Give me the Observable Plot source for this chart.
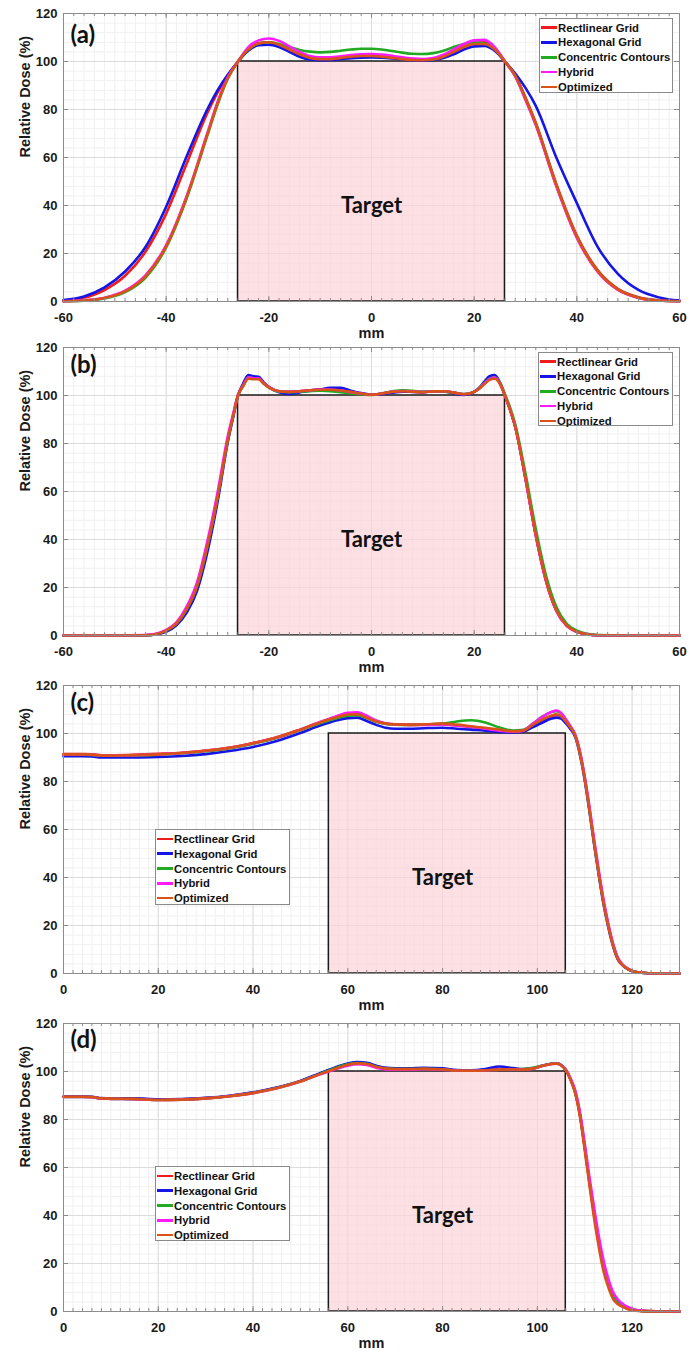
<!DOCTYPE html>
<html><head><meta charset="utf-8">
<script src="https://cdn.jsdelivr.net/npm/d3@7"></script>
<script src="https://cdn.jsdelivr.net/npm/@observablehq/plot@0.6"></script>
<style>
body{margin:0;background:#fff;}
#wrap{position:relative;width:699px;height:1352px;overflow:hidden;}
.panel{position:absolute;left:0;width:699px;height:342px;}
.panel svg{position:absolute;left:0;top:0;}
.legend{position:absolute;background:#fff;border:1px solid #8a8a8a;font:bold 11.3px "Liberation Sans",Arial,sans-serif;color:#111;box-sizing:border-box;padding-top:1.6px;}
.legend .row{display:flex;align-items:center;height:14.8px;white-space:nowrap;}
.legend .sw{width:16px;height:2.6px;margin-left:1px;margin-right:1px;flex:none;}
</style></head><body><div id="wrap"></div>
<script>
const names = ["Rectlinear Grid","Hexagonal Grid","Concentric Contours","Hybrid","Optimized"];
const colors = ["#f01c1c","#1515e6","#22aa22","#ff1aff","#d95319"];
const yTicks = [0,20,40,60,80,100,120];
const xTicksAB = [-60,-40,-20,0,20,40,60];
const xTicksCD = [0,20,40,60,80,100,120];
const domainAB = [-60,60];
const domainCD = [0,130];
const targetAB = [-26,26];
const targetCD = [56,106];
const panelTags = ["(a)","(b)","(c)","(d)"];
const targetLabel = "Target";

// ---------- panel (a) ----------
const xA = [-60,-56,-52,-48,-44,-40,-36,-32,-30,-28,-26,-24,-22,-20,-18,-16,-14,-12,-10,-8,-6,-4,-2,0,2,4,6,8,10,12,14,16,18,20,22,24,26,28,30,32,36,40,44,48,52,56,60];
const aRect = [0.4,1.6,4.8,10.7,20.8,36.6,57.5,78.5,87,94,100,105,107.7,108,106.8,104.8,103,101.8,101.3,101.4,101.8,102.2,102.5,102.6,102.4,102,101.5,101,100.8,101.2,102.3,104.2,106.3,107.7,108,105.5,100,94.3,85,74.5,49,27.5,13.2,5.3,1.8,0.5,0.2];
const aHex = [0.6,2.1,5.9,12.5,22.8,39.5,60.5,80,88,94.5,100,104.5,106.8,107,106,104,102,100.8,100.5,100.6,101,101.4,101.6,101.7,101.6,101.3,100.9,100.5,100.3,100.6,101.5,103,105,106.3,106.5,104.5,100,95,89,81.5,60,41,23,11.5,4.8,1.7,0.4];
const aConc = [0.1,0.3,1.3,3.9,10,22.5,43,69,82,92.8,100,105,107.5,108,107.3,106,104.8,104.1,103.8,104,104.5,105,105.3,105.3,105,104.4,103.7,103.2,103.1,103.5,104.5,106,107.3,108,107.6,105.2,100,94,84.5,74,48.5,27,12.8,5,1.6,0.4,0.1];
const aHyb = [0.1,0.5,1.6,4.5,11,23.5,44,70,83,93.5,100,106,108.8,109.6,108.6,106.3,104,102.3,101.7,101.8,102.2,102.7,103,103.1,102.9,102.4,101.8,101.2,101,101.4,102.8,105,107.3,108.8,109,106,100,93.8,84,73.5,48,26.5,12.5,4.8,1.5,0.4,0.1];
const aOpt = [0.1,0.4,1.5,4.2,10.5,23,43.5,69.5,82.5,93,100,105,107.5,108,107,105,103,101.5,101,101,101.5,102,102.3,102.3,102,101.5,101,100.6,100.5,100.8,102,104,106,107.3,107.3,105,100,94,84.5,74,48.5,27,12.8,5,1.6,0.4,0.1];

// ---------- panel (b) ----------
const xB = [-60,-50,-44,-42,-40,-38,-36,-34,-32,-30,-28,-27,-26,-25,-24,-23,-22,-21,-20,-18,-16,-14,-12,-10,-8,-6,-4,-2,0,2,4,6,8,10,12,14,16,18,20,21,22,23,24,25,26,27,28,30,32,34,36,38,40,42,44,50,60];
const bRect = [0,0,0.1,0.5,2,5,11,20.5,37,57.5,81.5,91,100,104,107.3,107,107,105,103.5,101.8,101.5,101.8,102.2,102.5,102.5,102.2,101.5,100.8,100.3,100.8,101.5,101.8,101.6,101.4,101.7,101.8,101.2,100.5,101.5,103,105,106.8,107.3,105,100,94,87,65.5,42,23,10.5,4.2,1.6,0.5,0.1,0,0];
const bHex = [0,0,0.1,0.4,1.5,4.2,9.5,18.5,34.5,55.5,80.5,90.5,100,105,108.5,108,107.8,105.5,103.5,101.3,100.6,101.3,102,102.5,103.2,103.2,102,101,100.3,100.6,101.2,101.6,101.5,101.4,101.7,101.7,101,100.2,101.5,103.3,105.8,108,108.5,105.5,100,94,87,65.5,42,23,10.5,4.2,1.6,0.5,0.1,0,0];
const bConc = [0,0,0.1,0.5,2,5,11,20.5,37,57.5,81.5,91,100,104,107.5,107.2,107,105,103.3,101.6,101.4,101.6,101.8,102,101.8,101.4,100.8,100.5,100.2,100.9,101.7,102.2,102,101.5,101.6,101.6,101.2,100.6,101.6,103.2,105.2,107,107.5,105.5,100.5,95,88,67.5,44.5,25,12,5,2,0.7,0.2,0,0];
const bHyb = [0,0,0.2,0.7,2.3,5.5,12,22,39,59.5,83,92,100.3,104.3,107.5,107.2,107.2,105.2,103.5,101.8,101.5,101.8,102.2,102.5,102.5,102.1,101.4,100.8,100.3,100.8,101.5,101.9,101.7,101.4,101.7,101.8,101.2,100.5,101.5,103,105,106.8,107.5,105.2,100,94,87,65,41.5,22.5,10.2,4,1.5,0.5,0.1,0,0];
const bOpt = [0,0,0.1,0.5,2,5,11,20.5,37,57.5,81.5,91,100,104,107,106.8,106.8,105,103.4,101.8,101.5,101.8,102.2,102.4,102.4,102.1,101.5,100.8,100.3,100.8,101.5,101.8,101.6,101.4,101.7,101.8,101.2,100.5,101.5,102.8,104.8,106.5,107,105,100,94,87,65.5,42,23,10.5,4.2,1.6,0.5,0.1,0,0];

// ---------- panel (c) ----------
const xC = [0,4,6,8,10,15,20,25,30,35,40,45,50,54,56,58,60,62,64,66,68,70,73,76,80,83,86,89,92,95,97,99,101,103,104,105,106,107,108,109,110,111,112,113,114,115,116,117,118,119,120,122,125,130];
const cRect = [91.4,91.4,91.3,90.9,90.9,91.1,91.5,92,92.9,94.1,96,98.4,101.7,104.6,105.9,107.2,108.1,108.3,106.9,105.2,104.2,103.8,103.6,103.7,103.9,103.4,102.7,102.1,101.3,100.7,101,103.2,105.5,107.2,107.7,107,105,102.6,99.2,92,81.5,68.5,54.5,41.5,29.5,20,12,6.3,3.6,2,1,0.3,0.05,0];
const cHex = [90.5,90.5,90.4,90,90,90,90.2,90.6,91.4,92.7,94.4,96.9,100.2,103.2,104.5,105.6,106.4,106.6,105.2,103.6,102.4,102,102,102.2,102.4,102,101.6,101.2,100.6,100.4,100.8,102.6,104.5,106.2,106.6,106.2,104.3,101.8,98.5,91,80.5,67.5,53.5,40.5,28.5,19,11.2,5.8,3.4,1.9,1,0.3,0.05,0];
const cConc = [91.2,91.2,91.1,90.7,90.7,90.9,91.2,91.8,92.6,93.8,95.7,98.1,101.3,104.2,105.4,106.6,107.4,107.6,106.4,104.9,104,103.7,103.6,103.7,104.1,105,105.5,104.6,102.5,101.2,101.5,104,107,109,109.3,108.5,105.5,102.8,99.2,91.8,81.3,68.3,54.3,41.3,29.3,19.8,11.8,6.2,3.5,2,1,0.3,0.05,0];
const cHyb = [91.3,91.3,91.2,90.8,90.8,91,91.3,91.9,92.8,94,95.9,98.3,101.6,104.7,106.1,107.5,108.6,108.8,107.4,105.4,104.2,103.8,103.6,103.6,103.8,103.3,102.8,102,101.2,100.7,101.2,104,106.8,109,109.6,108.6,106,103,99.5,92.5,82,69.5,55.5,42.5,30.5,20.5,12.3,6.5,3.7,2.1,1.1,0.3,0.05,0];
const cOpt = [91.3,91.3,91.2,90.8,90.8,91,91.3,91.9,92.8,94,95.9,98.3,101.6,104.5,105.8,107,107.9,108,106.6,105,104.1,103.8,103.7,103.8,104.1,103.7,103,102.4,101.6,100.9,101.2,103.5,105.8,107.5,108,107.2,105,102.5,99,91.5,81,68,54,41,29,19.5,11.5,6,3.5,2,1,0.3,0.05,0];

// ---------- panel (d) ----------
const xD = xC.slice();
const dRect = [89.5,89.5,89.4,88.8,88.7,88.6,88.2,88.4,88.9,89.8,91.2,93.2,96,99,100.5,102,103.1,103.7,103.4,102.2,101.4,101.2,101.1,101.2,101,100.5,100.4,100.6,101,101,100.9,101.3,102.4,103.2,103.4,102.7,100.6,96.8,91.3,82,68.5,54,40.5,28.5,18.5,11.5,6.3,3.7,2.3,1.3,0.8,0.25,0.05,0];
const dHex = [89.6,89.6,89.5,88.9,88.8,88.8,88.4,88.5,89,89.9,91.3,93.3,96.1,99.2,100.7,102.2,103.3,103.9,103.6,102.4,101.5,101.3,101.3,101.5,101.3,100.6,100.5,101,102.1,101.4,101,101.3,102.4,103.2,103.4,102.7,100.6,96.8,91.3,82,68.3,53.8,40.2,28.2,18.2,11.2,6.1,3.6,2.2,1.2,0.7,0.2,0.05,0];
const dConc = [89.4,89.4,89.3,88.7,88.6,88.5,88.1,88.3,88.8,89.7,91.1,93.1,95.9,98.9,100.4,101.9,103,103.5,103.2,102,101.2,101,101,101.1,100.9,100.4,100.3,100.5,100.8,100.9,101,101.5,102.4,103.2,103.4,102.7,100.6,96.8,91.3,82,68.5,54,40.5,28.5,18.5,11.5,6.3,3.7,2.3,1.3,0.8,0.25,0.05,0];
const dHyb = [89.4,89.4,89.3,88.7,88.6,88.5,88.1,88.3,88.8,89.7,91,93,95.8,98.7,100,101.3,102.4,103,102.7,101.6,100.9,100.8,100.8,101,100.8,100.4,100.3,100.5,100.8,100.9,100.8,101.2,102.3,103.1,103.3,102.7,100.8,97.2,92,83,70,56,43,31,21,13.5,8,5,3.2,2,1.2,0.4,0.1,0];
const dOpt = [89.5,89.5,89.4,88.8,88.7,88.6,88.1,88.3,88.8,89.7,91,93,95.8,98.8,100.2,101.6,102.8,103.4,103.1,102,101.2,101,101,101.1,100.9,100.4,100.3,100.5,100.8,100.9,100.8,101.2,102.3,103.1,103.3,102.6,100.5,96.5,90.8,81,67.2,52.5,38.5,26.5,16.5,10,5.2,3,1.9,1,0.5,0.15,0,0];

const font = "'Liberation Sans', Arial, Helvetica, sans-serif";
const calib = "Lato, 'Open Sans', sans-serif";
const fmt = d => String(d);

function makePanel(cfg) {
  const {xs, series, domain, xTicks, target, textX, tag, tagDy, legend, top} = cfg;
  const rows = [];
  series.forEach((vals, k) => vals.forEach((v, i) => rows.push({x: xs[i], y: v, s: names[k]})));
  const minorX = d3.range(domain[0], domain[1] + 0.01, 2);
  const minorY = d3.range(0, 120.01, 4);
  const tgt = [{x1: target[0], x2: target[1]}];
  const tick = "#8c8c8c";
  const svg = Plot.plot({
    width: 699, height: 342,
    marginTop: 13, marginBottom: 41, marginLeft: 63, marginRight: 20,
    x: {domain}, y: {domain: [0, 120]},
    color: {domain: names, range: colors},
    style: {fontFamily: font, fontSize: "13px", fontWeight: "bold", color: "#1a1a1a", background: "transparent", overflow: "visible"},
    marks: [
      Plot.ruleX(minorX, {stroke: "#f0f0f0"}),
      Plot.ruleY(minorY, {stroke: "#f0f0f0"}),
      Plot.ruleX(xTicks, {stroke: "#dcdcdc"}),
      Plot.ruleY(yTicks, {stroke: "#dcdcdc"}),
      Plot.rect(tgt, {x1: "x1", x2: "x2", y1: 0, y2: 100, fill: "#fcd3d8", fillOpacity: 0.7}),
      Plot.rect(tgt, {x1: "x1", x2: "x2", y1: 0, y2: 100, fill: "none", stroke: "#1a1a1a", strokeWidth: 1.5}),
      Plot.line(rows, {x: "x", y: "y", z: "s", stroke: "s", strokeWidth: 2.6, curve: "monotone-x"}),
      Plot.ruleX(minorX, {x: d => d, y1: 0, y2: 0, insetBottom: 3, stroke: tick}),
      Plot.ruleX(minorX, {x: d => d, y1: 120, y2: 120, insetTop: 3, stroke: tick}),
      Plot.ruleX(xTicks, {x: d => d, y1: 0, y2: 0, insetBottom: 5, stroke: tick}),
      Plot.ruleX(xTicks, {x: d => d, y1: 120, y2: 120, insetTop: 5, stroke: tick}),
      Plot.ruleY(yTicks, {y: d => d, x1: domain[0], x2: domain[0], insetLeft: 5, stroke: tick}),
      Plot.ruleY(yTicks, {y: d => d, x1: domain[1], x2: domain[1], insetRight: 5, stroke: tick}),
      Plot.frame({stroke: tick}),
      Plot.axisX(xTicks, {anchor: "bottom", tickSize: 0, tickPadding: 11, tickFormat: fmt, label: null, fontSize: 13, fontWeight: "bold", color: "#1a1a1a"}),
      Plot.axisY(yTicks, {anchor: "left", tickSize: 0, tickPadding: 6, tickFormat: fmt, label: null, fontSize: 13, fontWeight: "bold", color: "#1a1a1a"}),
      Plot.text(["mm"], {text: d => d, frameAnchor: "bottom", dy: 31.5, lineAnchor: "middle", fontSize: 14.5, fontWeight: "bold", fill: "#1a1a1a"}),
      Plot.text(["Relative Dose (%)"], {text: d => d, frameAnchor: "left", dx: -38, rotate: -90, lineAnchor: "middle", fontSize: 14.5, fontWeight: "bold", fill: "#1a1a1a"}),
      Plot.text([targetLabel], {text: d => d, x: textX, y: 40, lineAnchor: "middle", fontFamily: calib, fontSize: 22, fontWeight: "bold", fill: "#111"}),
      Plot.text([tag], {text: d => d, frameAnchor: "top-left", dx: 7, dy: tagDy, textAnchor: "start", lineAnchor: "middle", fontFamily: calib, fontSize: 24, fontWeight: "bold", fill: "#111"})
    ]
  });
  const div = document.createElement("div");
  div.className = "panel";
  div.style.top = top + "px";
  div.appendChild(svg);
  const lg = document.createElement("div");
  lg.className = "legend";
  lg.style.left = legend[0] + "px";
  lg.style.top = legend[1] + "px";
  lg.style.width = legend[2] + "px";
  lg.style.height = legend[3] + "px";
  names.forEach((n, k) => {
    const r = document.createElement("div");
    r.className = "row";
    const sw = document.createElement("span");
    sw.className = "sw";
    sw.style.background = colors[k];
    const t = document.createElement("span");
    t.textContent = n;
    r.appendChild(sw); r.appendChild(t);
    lg.appendChild(r);
  });
  div.appendChild(lg);
  document.getElementById("wrap").appendChild(div);
}

makePanel({xs: xA, series: [aRect, aHex, aConc, aHyb, aOpt], domain: domainAB, xTicks: xTicksAB, target: targetAB, textX: 0, tag: panelTags[0], tagDy: 22, legend: [539, 17.7, 134, 75.5], top: 0});
makePanel({xs: xB, series: [bRect, bHex, bConc, bHyb, bOpt], domain: domainAB, xTicks: xTicksAB, target: targetAB, textX: 0, tag: panelTags[1], tagDy: 18, legend: [538, 17.7, 134.6, 74.5], top: 334});
makePanel({xs: xC, series: [cRect, cHex, cConc, cHyb, cOpt], domain: domainCD, xTicks: xTicksCD, target: targetCD, textX: 80, tag: panelTags[2], tagDy: 18, legend: [155, 157, 134.5, 76], top: 672});
makePanel({xs: xD, series: [dRect, dHex, dConc, dHyb, dOpt], domain: domainCD, xTicks: xTicksCD, target: targetCD, textX: 80, tag: panelTags[3], tagDy: 17, legend: [155, 156, 134.5, 75], top: 1010});
</script></body></html>
